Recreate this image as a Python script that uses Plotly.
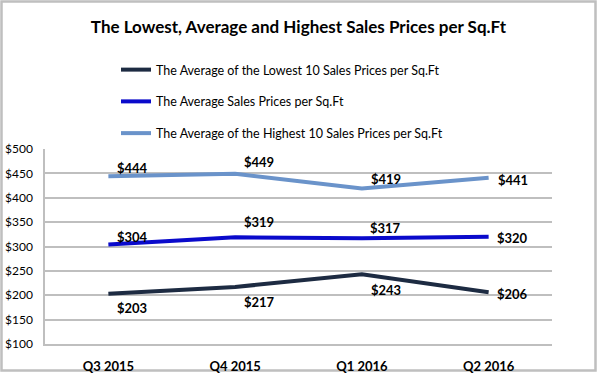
import plotly.graph_objects as go

quarters = ["Q3 2015", "Q4 2015", "Q1 2016", "Q2 2016"]
lowest = [203, 217, 243, 206]
average = [304, 319, 317, 320]
highest = [444, 449, 419, 441]

series_names = [
    "The Average of the Lowest 10 Sales Prices per Sq.Ft",
    "The Average Sales Prices per Sq.Ft",
    "The Average of the Highest 10 Sales Prices per Sq.Ft",
]
colors = ["#1d2b42", "#0a0acb", "#6a93ca"]
# vertical label offsets (px) per series per point
label_dy = [
    [-14, -15, -16, -2],
    [8, 15, 10, -1],
    [8, 12, 9, -2],
]

FONT = "Lato, 'Open Sans', sans-serif"

fig = go.Figure()
all_series = [lowest, average, highest]
for i, (name, vals, col) in enumerate(zip(series_names, all_series, colors)):
    fig.add_trace(go.Scatter(
        x=quarters, y=vals, mode="lines", name=name,
        line=dict(color=col, width=4),
        legendgroup=f"g{i}",
        hoverinfo="skip",
    ))
    for q, v, dy in zip(quarters, vals, label_dy[i]):
        fig.add_annotation(
            x=q, y=v, text=f"${v}", showarrow=False,
            xshift=24, yshift=dy,
            font=dict(family=FONT, size=13, color="#000000", weight="bold"),
        )

# outer frame
L, R, T, B = 45, 552, 149, 344
W, H = R - L, B - T
def px(x):
    return (x - L) / W
def py(y):
    return (B - y) / H
fig.add_shape(type="rect", xref="paper", yref="paper",
              x0=px(1.5), x1=px(595.5), y0=py(370.5), y1=py(1.5),
              line=dict(color="#bfbfbf", width=2.5), layer="below")

fig.update_layout(
    width=597, height=373,
    margin=dict(l=L, r=597 - R, t=T, b=373 - B, pad=0, autoexpand=False),
    paper_bgcolor="white", plot_bgcolor="white",
    font=dict(family=FONT, color="#000000"),
    title=dict(
        text="The Lowest, Average and Highest Sales Prices per Sq.Ft",
        x=0.5, xanchor="center", y=1 - 27 / 373, yanchor="middle",
        font=dict(family=FONT, size=17, color="#000000", weight="bold"),
    ),
    showlegend=True,
    legend=dict(
        x=px(116), xanchor="left", y=py(55), yanchor="top",
        traceorder="grouped", tracegroupgap=12.5,
        font=dict(family=FONT, size=12.5, color="#000000"),
        bgcolor="rgba(0,0,0,0)", borderwidth=0,
        itemwidth=30,
    ),
    xaxis=dict(
        type="category", range=[-0.5, 3.5], showgrid=False, showline=True,
        linecolor="#bfbfbf", linewidth=1.5, ticks="",
        tickfont=dict(family=FONT, size=13, color="#000000", weight="bold"),
        ticklabelstandoff=10, zeroline=False,
    ),
    yaxis=dict(
        range=[100, 500], dtick=50, tickprefix="$",
        showgrid=True, gridcolor="#bfbfbf", gridwidth=1.5,
        showline=True, linecolor="#bfbfbf", linewidth=1.5,
        ticks="", zeroline=False,
        tickfont=dict(family=FONT, size=12, color="#000000"),
        ticklabelstandoff=8,
    ),
)

fig.write_html(
    "out.html",
    config={"displayModeBar": False},
    post_script="document.body.style.margin='0';document.body.style.overflow='hidden';",
)
